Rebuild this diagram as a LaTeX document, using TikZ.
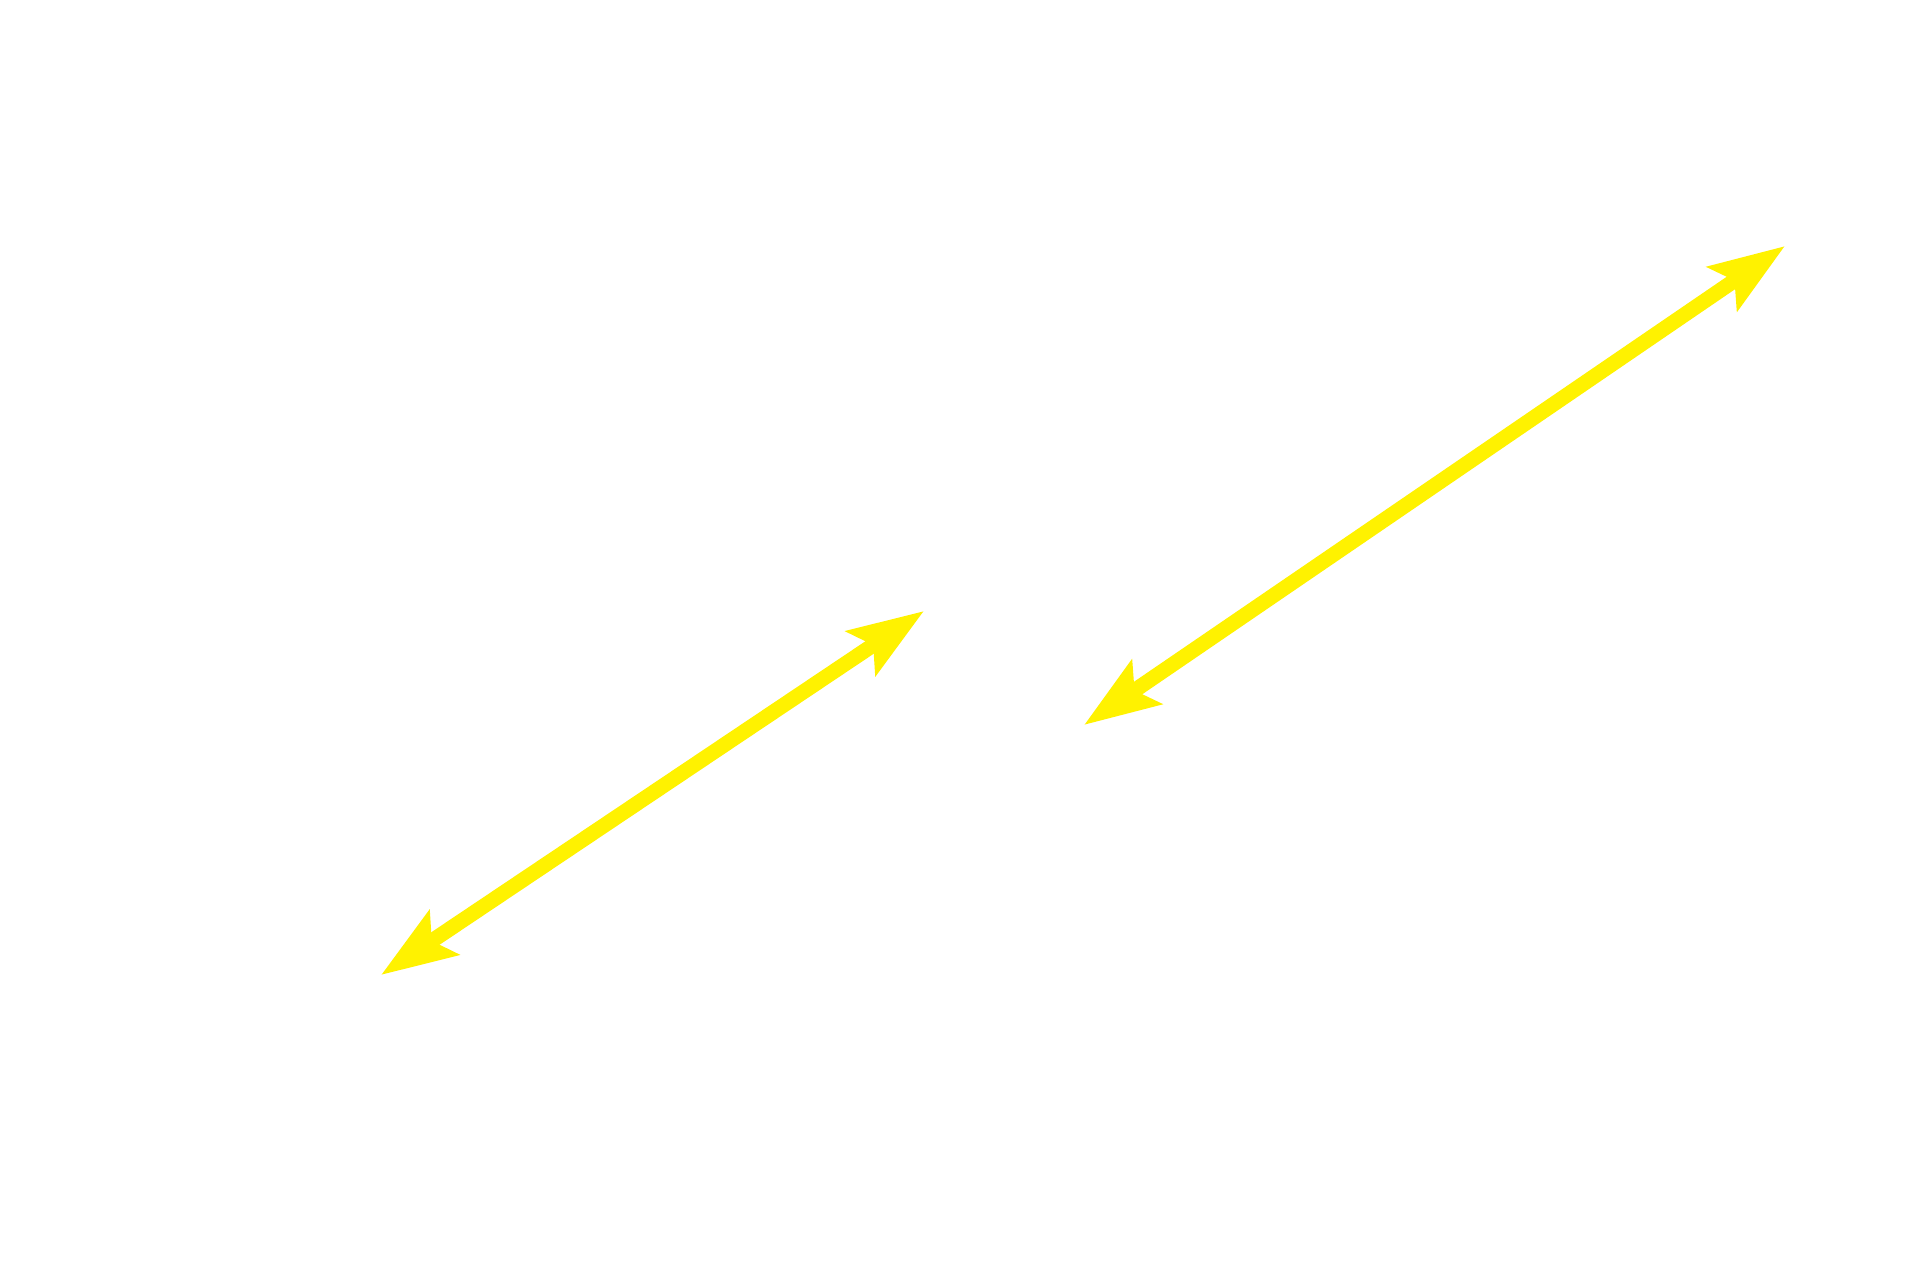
\documentclass[tikz,border=0pt]{standalone}
\usetikzlibrary{arrows.meta}
\definecolor{arrowyellow}{RGB}{255,242,0}
\begin{document}
\begin{tikzpicture}[x=1pt,y=-1pt,
  yhead/.style={Stealth[length=75pt,width=52pt,inset=14pt]},
  dbl/.style={draw=arrowyellow,line width=15pt,{Stealth[length=75pt,width=52pt,inset=14pt]}-{Stealth[length=75pt,width=52pt,inset=14pt]}}]
\useasboundingbox[fill=white] (0,0) rectangle (1920,1280);
\coordinate (a1) at (381,975);
\coordinate (a2) at (924,611);
\coordinate (b1) at (1084,725);
\coordinate (b2) at (1785,246);
\draw[dbl] (a1) -- (a2);
\draw[dbl] (b1) -- (b2);
\end{tikzpicture}
\end{document}
